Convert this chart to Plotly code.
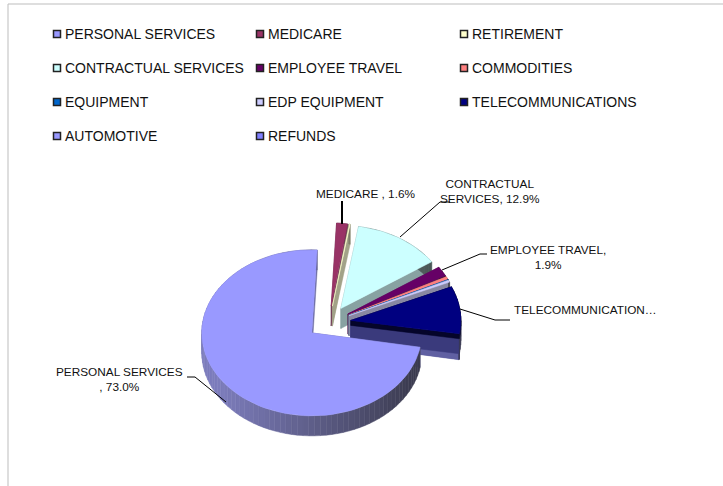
import math
import plotly.graph_objects as go

categories = ["PERSONAL SERVICES", "MEDICARE", "RETIREMENT", "CONTRACTUAL SERVICES", "EMPLOYEE TRAVEL",
              "COMMODITIES", "EQUIPMENT", "EDP EQUIPMENT", "TELECOMMUNICATIONS", "AUTOMOTIVE", "REFUNDS"]
shares = [73.0, 1.6, 0.2, 12.9, 1.9, 0.5, 0.1, 0.4, 9.2, 0.1, 0.1]
colors = ["#9999ff", "#993366", "#ffffcc", "#ccffff", "#660066", "#ff8080",
          "#0066cc", "#ccccff", "#000080", "#9999ff", "#8080ff"]

# Tilted pie geometry, in the pixel-sized axes below
CX, CY, RX, RY = 329.0, 322.5, 110.0, 83.0
DEPTH, EXPLODE, START = 20.0, 0.2, 100.0

LEGEND_X = [57, 260, 464]
LEGEND_Y = [34, 68, 102, 136]
TEXT_GAP = 7.5


def shade(hex_color, f, lift=30):
    r, g, b = (int(hex_color[i:i + 2], 16) for i in (1, 3, 5))
    return f"rgb({int(r * f) + lift},{int(g * f) + lift},{int(b * f) + lift})"


def point(cx, cy, deg):
    a = math.radians(deg)
    return cx + RX * math.sin(a), cy - RY * math.cos(a)


def polygon(fig, xs, ys, color):
    fig.add_trace(go.Scatter(x=xs, y=ys, mode="lines", fill="toself", fillcolor=color,
                             line=dict(color=color, width=0.5), hoverinfo="skip", showlegend=False))


fig = go.Figure()

# Sweep clockwise from the starting angle to get each slice's span
spans, angle = [], START
for s in shares:
    spans.append((angle, angle + s * 3.6))
    angle += s * 3.6


def draw_slice(i):
    a0, a1 = spans[i]
    mid = math.radians((a0 + a1) / 2)
    cx = CX + RX * EXPLODE * math.sin(mid)
    cy = CY - RY * EXPLODE * math.cos(mid)
    base = colors[i]
    n = max(2, int((a1 - a0) / 3))
    arc = [a0 + (a1 - a0) * k / n for k in range(n + 1)]
    # The navy slice keeps a black band right under its top face over a slate wall
    navy = categories[i] == "TELECOMMUNICATIONS"
    band = 5.0 if navy else 0.0
    lift = 58 if navy else 30

    def wall(x0, y0, x1, y1, color):
        polygon(fig, [x0, x1, x1, x0, x0], [y0, y1, y1 + DEPTH, y0 + DEPTH, y0], color)
        if band:
            polygon(fig, [x0, x1, x1, x0, x0], [y0, y1, y1 + band, y0 + band, y0], "#05052a")

    # Radial cut faces, visible below the slice edges
    for edge in (a0, a1):
        ex, ey = point(cx, cy, edge)
        wall(cx, cy, ex, ey, shade(base, 0.52, lift))

    # Outer wall, darker toward the lower right
    for k in range(n):
        d0, d1 = arc[k], arc[k + 1]
        x0, y0 = point(cx, cy, d0)
        x1, y1 = point(cx, cy, d1)
        m = math.radians((d0 + d1) / 2)
        wall(x0, y0, x1, y1, shade(base, max(0.2, min(0.62, 0.42 - 0.24 * math.sin(m))), lift))

    # Top face
    rim = [point(cx, cy, d) for d in arc]
    polygon(fig, [cx] + [p[0] for p in rim] + [cx], [cy] + [p[1] for p in rim] + [cy], base)


# Paint back to front so nearer slices cover farther ones
for i in [1, 2, 3, 4, 5, 6, 7, 9, 10, 8, 0]:
    draw_slice(i)

# Legend grid: swatches, then their names
legend_cells = [(LEGEND_X[i % 3], LEGEND_Y[i // 3]) for i in range(len(categories))]
fig.add_trace(go.Scatter(
    x=[c[0] for c in legend_cells], y=[c[1] for c in legend_cells], mode="markers",
    marker=dict(symbol="square", size=7, color=colors, line=dict(color="#222222", width=1.5)),
    hoverinfo="skip", showlegend=False))
for name, (x, y) in zip(categories, legend_cells):
    fig.add_annotation(x=x + TEXT_GAP, y=y, text=name, showarrow=False, xanchor="left",
                       xshift=-2, font=dict(family="Liberation Sans", size=14, color="#111111"))

# Leader lines from the labels to their slices
leaders = [
    ([342, 342], [201, 224], 2),
    ([450, 440, 400], [202, 202, 237], 1),
    ([487, 480, 442], [254, 254, 270], 1),
    ([510, 495, 460], [320, 320, 309], 1),
    ([187, 195, 226], [377, 377, 402], 1),
]
for xs, ys, w in leaders:
    fig.add_trace(go.Scatter(x=xs, y=ys, mode="lines", line=dict(color="black", width=w),
                             hoverinfo="skip", showlegend=False))

# Slice labels, with percentages taken from the shares
labels = [
    (365.5, 194, f"MEDICARE , {shares[1]:.1f}%"),
    (490, 191, f"CONTRACTUAL<br>SERVICES, {shares[3]:.1f}%"),
    (548, 257, f"EMPLOYEE TRAVEL,<br>{shares[4]:.1f}%"),
    (585, 310, "TELECOMMUNICATION…"),
    (119, 379, f"PERSONAL SERVICES<br>, {shares[0]:.1f}%"),
]
for x, y, t in labels:
    fig.add_annotation(x=x, y=y, text=t, showarrow=False, align="center",
                       font=dict(family="Liberation Sans", size=11.8, color="#111111"))

# Chart frame, open on the right and bottom edges
frame = dict(type="line", line=dict(color="#bdbdbd", width=1))
fig.add_shape(x0=8, x1=8, y0=4, y1=486, **frame)
fig.add_shape(x0=8, x1=723, y0=4, y1=4, **frame)

fig.update_layout(
    width=723, height=486, margin=dict(l=0, r=0, t=0, b=0),
    paper_bgcolor="white", plot_bgcolor="white",
    xaxis=dict(range=[0, 723], visible=False, fixedrange=True),
    yaxis=dict(range=[486, 0], visible=False, fixedrange=True),
    showlegend=False,
)
fig.write_html("out.html", config=dict(displayModeBar=False))
